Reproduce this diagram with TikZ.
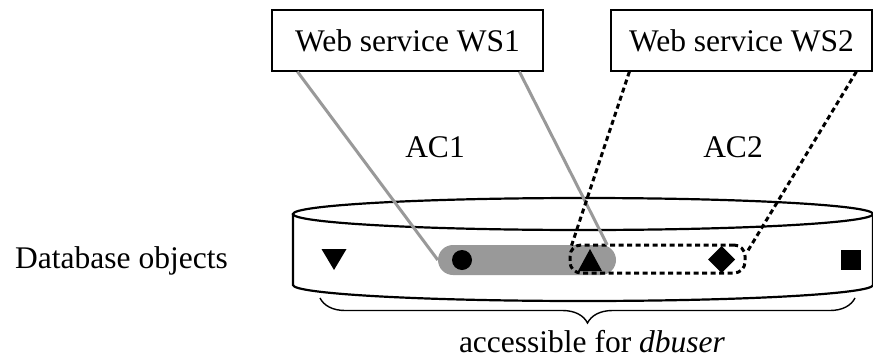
\documentclass[tikz,border=0pt]{standalone}
\usepackage{fontspec}
\setmainfont{Liberation Serif}
\usetikzlibrary{calc,decorations.pathreplacing}
\definecolor{pillgray}{RGB}{153,153,153}
\tikzset{
  wsbox/.style={draw=black, line width=1.2pt, minimum height=61pt, inner sep=0pt, font=\fontsize{31.5}{37}\selectfont},
  lbl/.style={font=\fontsize{31.5}{37}\selectfont, inner sep=0pt},
  cyl/.style={line width=2.2pt},
  grayline/.style={draw=pillgray, line width=3pt},
  dashline/.style={line width=3pt, dash pattern=on 5pt off 3.5pt},
  graypill/.style={fill=pillgray, rounded corners=15pt, minimum width=178pt, minimum height=30pt, inner sep=0pt},
  dashpill/.style={draw=black, line width=3pt, dash pattern=on 5pt off 3.5pt, rounded corners=11pt, minimum width=175pt, minimum height=28pt, inner sep=0pt},
}
\begin{document}
\begin{tikzpicture}[x=1pt,y=-1pt]
\useasboundingbox (0,0) rectangle (873,359);
% boxes
\node[wsbox, minimum width=271pt] (ws1) at (407.5,40.5) {Web service WS1};
\node[wsbox, minimum width=261pt] (ws2) at (741.5,40.5) {Web service WS2};
% cylinder
\draw[cyl] (583,214) ellipse [x radius=290pt, y radius=16pt];
\draw[cyl] (293,214) -- (293,285) arc[start angle=180, end angle=360, x radius=290pt, y radius=16pt] -- (873,214);
% labels
\node[lbl, anchor=base] (ac1) at (435,157) {AC1};
\node[lbl, anchor=base] (ac2) at (733,157) {AC2};
\node[lbl, anchor=base] (db) at (121.5,268) {Database objects};
% pills
\node[graypill] (gp) at (527,260) {};
\node[dashpill] (dp) at (657.5,259) {};
% attachment points
\coordinate (w1a) at ($(ws1.south west)+(26,0)$);
\coordinate (w1b) at ($(ws1.south west)+(248,0)$);
\coordinate (w2a) at ($(ws2.south west)+(19,0)$);
\coordinate (w2b) at ($(ws2.south west)+(246,0)$);
\coordinate (gpb) at ($(gp.north east)+(-9,0)$);
\coordinate (dpa) at ($(dp.north west)+(3,2)$);
\coordinate (dpb) at ($(dp.east)+(0,-6)$);
% connectors
\draw[grayline] (w1a) -- (gp.west);
\draw[grayline] (w1b) -- (gpb);
\draw[dashline] (w2a) -- (dpa);
\draw[dashline] (w2b) -- (dpb);
% symbols
\fill (321.5,249) -- (346.5,249) -- (334,270) -- cycle;
\fill (462,260) circle [radius=10pt];
\fill (578,271) -- (602,271) -- (590,249) -- cycle;
\fill (708,259.5) -- (721.5,246) -- (735,259.5) -- (721.5,273) -- cycle;
\fill (841,250) rectangle (861,270);
% brace
\draw[line width=1.4pt, decorate, decoration={brace, amplitude=25pt}] (855,298) -- (320,298);
\node[lbl, anchor=base] (acc) at (592,352) {accessible for \textit{dbuser}};
\end{tikzpicture}
\end{document}
